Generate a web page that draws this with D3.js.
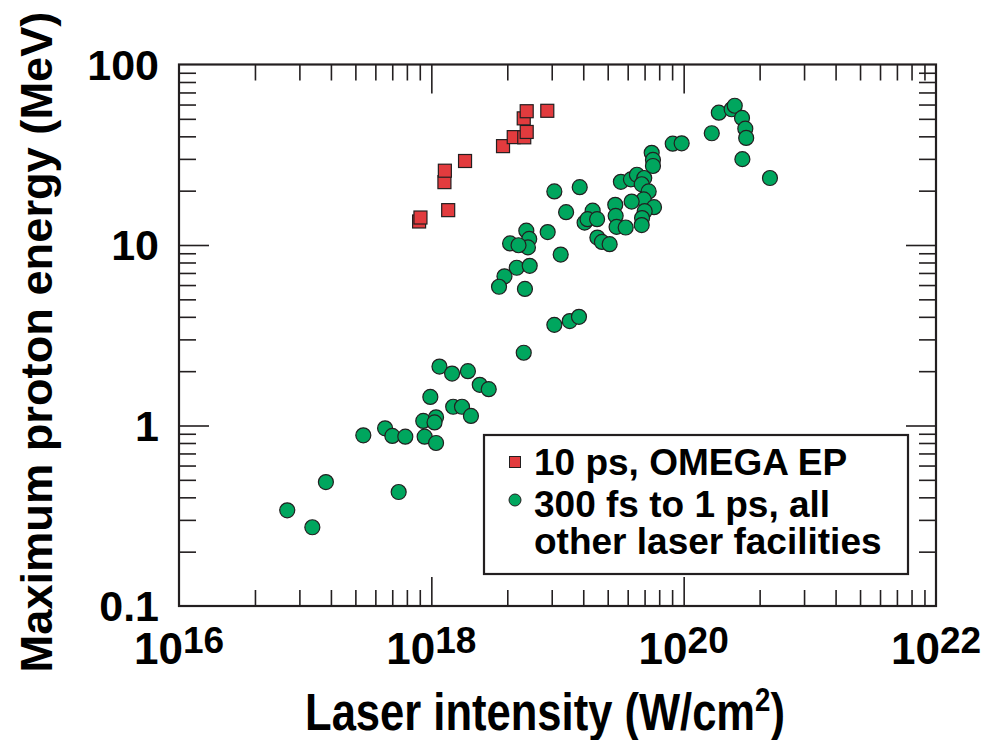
<!DOCTYPE html>
<html>
<head>
<meta charset="utf-8">
<script src="https://cdn.jsdelivr.net/npm/d3@7"></script>
<style>
    body { margin: 0; background: #fff; }
    text { font-family: "Liberation Sans", Arial, Helvetica, sans-serif; font-weight: bold; fill: #000; }
</style>
</head>
<body>
<div id="chart"></div>
<script>
// 10 ps, OMEGA EP
const epIntensity = [8.0e17, 8.2e17, 1.36e18, 1.27e18, 1.28e18, 1.85e18, 3.7e18, 4.5e18, 5.45e18, 5.7e18, 5.4e18, 5.7e18, 8.3e18];
const epEnergy = [13.5, 14.2, 15.6, 22.3, 25.8, 29.2, 35.3, 39.6, 39.5, 42.3, 50.3, 55.1, 55.4];

// 300 fs to 1 ps, all other laser facilities
const otherIntensity = [
    9.44e18, 1.50e19, 1.17e19, 8.36e18, 5.66e18, 5.97e18, 5.83e18, 4.21e18, 4.91e18, 1.06e19,
    4.75e18, 6.02e18, 3.80e18, 3.44e18, 5.52e18, 9.44e18, 1.25e19, 1.48e19, 1.64e19, 1.90e19,
    1.73e19, 2.06e19, 2.07e19, 2.25e19, 2.59e19, 2.87e19, 2.89e19, 2.94e19, 3.47e19, 3.18e19,
    3.82e19, 4.26e19, 4.87e19, 4.65e19, 5.28e19, 4.82e19, 3.87e19, 5.82e19, 4.91e19, 4.68e19,
    4.65e19, 5.58e19, 5.71e19, 5.71e19, 8.19e19, 9.64e19, 1.67e20, 1.90e20, 2.40e20, 2.54e20,
    2.90e20, 3.08e20, 3.13e20, 2.92e20, 4.83e20, 5.40e18, 1.16e18, 1.46e18, 1.95e18, 2.42e18,
    2.85e18, 9.82e17, 1.49e18, 1.75e18, 2.06e18, 8.63e17, 1.09e18, 1.06e18, 4.30e17, 4.91e17,
    6.22e17, 2.89e17, 8.85e17, 1.09e18, 1.46e17, 5.51e17, 7.21e16, 1.14e17];
const otherEnergy = [
    19.8, 20.9, 15.2, 11.8, 12.0, 10.8, 9.7, 10.2, 9.97, 8.85,
    7.48, 7.67, 6.71, 5.87, 5.71, 3.61, 3.79, 4.0, 13.3, 15.5,
    13.9, 13.9, 11.0, 10.4, 10.1, 16.7, 14.5, 12.6, 12.5, 22.4,
    23.1, 24.5, 23.5, 21.7, 19.8, 17.9, 17.4, 16.2, 15.4, 14.1,
    12.9, 32.4, 29.6, 27.4, 36.4, 36.6, 41.6, 54.1, 56.5, 59.1,
    50.6, 44.1, 39.2, 29.9, 23.5, 2.53, 2.12, 1.94, 2.0, 1.68,
    1.59, 1.44, 1.27, 1.27, 1.13, 1.06, 1.11, 1.04, 0.965, 0.875,
    0.867, 0.882, 0.867, 0.80, 0.486, 0.428, 0.339, 0.273];

// tick labels
const xExponents = [16, 18, 20, 22];
const yLabels = [0.1, 1, 10, 100];
const legendLines = ["10 ps, OMEGA EP", "300 fs to 1 ps, all", "other laser facilities"];

const W = 985, H = 740;
const margin = { top: 64.5, right: 49, bottom: 134, left: 179 },
    width = W - margin.left - margin.right,
    height = H - margin.top - margin.bottom;

const redFill = "#e23b3e", greenFill = "#00a65e", ink = "#231f20";

const svg = d3.select("#chart").append("svg")
    .attr("width", W).attr("height", H);

const g = svg.append("g")
    .attr("transform", `translate(${margin.left},${margin.top})`);

const x = d3.scaleLog().domain([1e16, 1e22]).range([0, width]);
const y = d3.scaleLog().domain([0.1, 100]).range([height, 0]);

// minor ticks: x axis has k^2 spacing inside each two-decade step, y axis normal 2..9
const xMinor = [], yMinor = [];
[16, 18, 20].forEach(e => d3.range(2, 10).forEach(k => xMinor.push(k * k * Math.pow(10, e))));
[-1, 0, 1].forEach(e => d3.range(2, 10).forEach(k => yMinor.push(k * Math.pow(10, e))));
const xMajor = [1e18, 1e20];
const yMajor = [1, 10];

function tickAxis(axisFn, scale, values, size, transform) {
    const a = g.append("g")
        .attr("transform", transform)
        .call(axisFn(scale).tickValues(values).tickSize(size).tickFormat(""));
    a.select(".domain").remove();
    a.selectAll("line").attr("stroke", ink).attr("stroke-width", 1.6);
}

// bottom / top / left / right ticks pointing inward
tickAxis(d3.axisBottom, x, xMinor, -16, `translate(0,${height})`);
tickAxis(d3.axisBottom, x, xMajor, -29, `translate(0,${height})`);
tickAxis(d3.axisTop, x, xMinor, -16, "translate(0,0)");
tickAxis(d3.axisTop, x, xMajor, -29, "translate(0,0)");
tickAxis(d3.axisLeft, y, yMinor, -17, "translate(0,0)");
tickAxis(d3.axisLeft, y, yMajor, -30, "translate(0,0)");
tickAxis(d3.axisRight, y, yMinor, -17, `translate(${width},0)`);
tickAxis(d3.axisRight, y, yMajor, -30, `translate(${width},0)`);

// frame
g.append("rect")
    .attr("width", width).attr("height", height)
    .attr("fill", "none").attr("stroke", ink).attr("stroke-width", 2.2);

// y tick labels
g.selectAll(".ylab").data(yLabels).enter().append("text")
    .attr("class", "ylab")
    .attr("x", -20)
    .attr("y", d => y(d) + 15)
    .attr("text-anchor", "end")
    .attr("font-size", 43)
    .text(d => d);

// x tick labels 10^n
const xl = g.selectAll(".xlab").data(xExponents).enter().append("text")
    .attr("class", "xlab")
    .attr("x", d => x(Math.pow(10, d)))
    .attr("y", height + 58)
    .attr("text-anchor", "middle")
    .attr("font-size", 44);
xl.append("tspan").text("10");
xl.append("tspan").attr("font-size", 37).attr("dy", -11).text(d => d);

// axis titles
const xTitle = svg.append("text")
    .attr("text-anchor", "middle")
    .attr("font-size", 52);
xTitle.append("tspan").text("Laser intensity (W/cm");
xTitle.append("tspan").attr("font-size", 33).attr("dy", -19).text("2");
xTitle.append("tspan").attr("dy", 19).text(")");
const xw = xTitle.node().getBBox().width;
xTitle.attr("transform", `translate(545,730) scale(${480 / xw},1)`);

const yTitle = svg.append("text")
    .attr("text-anchor", "middle")
    .attr("font-size", 45)
    .text("Maximum proton energy (MeV)");
const yw = yTitle.node().getBBox().width;
yTitle.attr("transform", `translate(52,342) rotate(-90) scale(${661 / yw},1)`);

// data points
const other = otherIntensity.map((v, i) => ({ x: v, y: otherEnergy[i] }));
const ep = epIntensity.map((v, i) => ({ x: v, y: epEnergy[i] }));

g.selectAll(".other").data(other).enter().append("circle")
    .attr("class", "other")
    .attr("cx", d => x(d.x))
    .attr("cy", d => y(d.y))
    .attr("r", 7.5)
    .attr("fill", greenFill)
    .attr("stroke", ink)
    .attr("stroke-width", 1.2);

g.selectAll(".ep").data(ep).enter().append("rect")
    .attr("class", "ep")
    .attr("x", d => x(d.x) - 6.5)
    .attr("y", d => y(d.y) - 6.5)
    .attr("width", 13).attr("height", 13)
    .attr("fill", redFill)
    .attr("stroke", ink)
    .attr("stroke-width", 1.2);

// legend
const leg = svg.append("g");
leg.append("rect")
    .attr("x", 484).attr("y", 435)
    .attr("width", 424).attr("height", 139)
    .attr("fill", "#fff").attr("stroke", ink).attr("stroke-width", 2.2);
leg.append("rect")
    .attr("x", 509.5).attr("y", 456.5).attr("width", 11).attr("height", 11)
    .attr("fill", redFill).attr("stroke", ink).attr("stroke-width", 1);
leg.append("circle")
    .attr("cx", 515).attr("cy", 500).attr("r", 6)
    .attr("fill", greenFill).attr("stroke", ink).attr("stroke-width", 1);
const baselines = [475, 517, 554];
leg.selectAll(".lt").data(legendLines).enter().append("text")
    .attr("class", "lt")
    .attr("x", 534)
    .attr("y", (d, i) => baselines[i])
    .attr("font-size", 37)
    .text(d => d);
</script>
</body>
</html>
